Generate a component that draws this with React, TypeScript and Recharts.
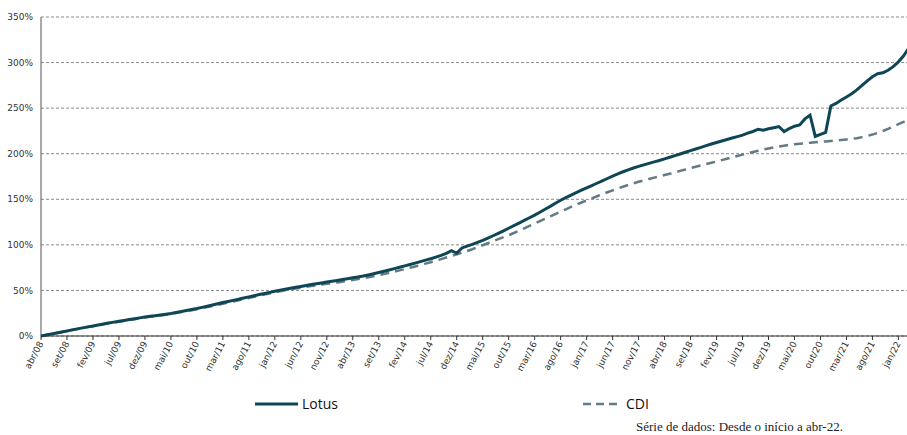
import React from "react";
import { LineChart, Line, XAxis, YAxis, CartesianGrid } from "recharts";

const monthNames = ["jan", "fev", "mar", "abr", "mai", "jun", "jul", "ago", "set", "out", "nov", "dez"];
const startYear = 2008;
const startMonth = 3; // abr
const monthCount = 169; // abr/08 .. abr/22

const lotus = [
  0, 1.1, 2.2, 3.3, 4.4, 5.5, 6.7, 7.8, 8.9, 10.0, 11.0, 12.1, 13.2, 14.2, 15.2, 16.2, 17.1, 18.0, 18.9, 19.9,
  20.9, 21.6, 22.3, 23.0, 23.8, 24.6, 25.7, 26.8, 27.9, 29.0, 30.1, 31.4, 32.7, 34.0, 35.3, 36.7, 37.9, 39.1, 40.4, 41.6,
  42.9, 44.2, 45.5, 46.7, 47.9, 49.1, 50.3, 51.4, 52.4, 53.4, 54.4, 55.4, 56.4, 57.3, 58.2, 59.2, 60.1, 61.0, 61.9, 62.8,
  63.8, 64.8, 65.8, 67.0, 68.3, 69.7, 71.1, 72.5, 73.9, 75.4, 76.9, 78.4, 80.0, 81.6, 83.2, 84.8, 86.6, 88.5, 90.6, 93.6,
  90.8, 96.6, 98.6, 100.6, 102.7, 104.9, 107.4, 110.0, 112.7, 115.4, 118.2, 121.0, 123.9, 126.8, 129.7, 132.6, 135.8, 139.0, 142.2, 145.6,
  149.0, 151.8, 154.6, 157.3, 160.0, 162.5, 165.0, 167.6, 170.2, 172.8, 175.5, 178.0, 180.2, 182.3, 184.3, 186.1, 187.8, 189.4, 191.0, 192.6,
  194.3, 196.1, 197.9, 199.7, 201.6, 203.4, 205.2, 207.0, 208.8, 210.6, 212.3, 214.0, 215.6, 217.2, 218.8, 220.4, 222.6, 224.4, 226.9, 225.8,
  227.3, 228.5, 229.8, 224.2, 227.6, 230.2, 231.6, 238.2, 242.3, 219.0, 221.2, 223.4, 252.4, 255.2, 259.0, 262.2, 265.8, 270.0, 275.0, 280.0,
  284.5, 287.7, 288.8, 291.6, 295.5, 300.8, 307.5, 316.0, 324.0,
];

const cdi = [
  0, 1.1, 2.2, 3.3, 4.4, 5.4, 6.6, 7.7, 8.8, 9.8, 10.8, 11.8, 12.8, 13.8, 14.7, 15.7, 16.6, 17.5, 18.4, 19.3,
  20.2, 21.0, 21.8, 22.6, 23.4, 24.3, 25.2, 26.2, 27.2, 28.3, 29.4, 30.5, 31.7, 32.9, 34.1, 35.3, 36.6, 37.8, 39.1, 40.4,
  41.7, 43.0, 44.3, 45.5, 46.7, 47.9, 49.0, 50.1, 51.1, 52.1, 53.0, 53.9, 54.8, 55.6, 56.4, 57.2, 58.0, 58.8, 59.6, 60.5,
  61.4, 62.4, 63.4, 64.5, 65.6, 66.8, 68.0, 69.3, 70.6, 72.0, 73.4, 74.8, 76.3, 77.8, 79.4, 81.0, 82.7, 84.4, 86.1, 87.8,
  89.6, 91.4, 93.3, 95.2, 97.4, 99.6, 101.8, 104.0, 106.2, 108.4, 110.6, 113.0, 115.6, 118.2, 120.8, 123.4, 126.0, 128.6, 131.2, 133.8,
  136.4, 139.0, 141.6, 144.1, 146.5, 148.7, 151.0, 153.3, 155.5, 157.7, 159.8, 161.8, 163.8, 165.7, 167.5, 169.2, 170.8, 172.3, 173.8, 175.2,
  176.6, 178.0, 179.4, 181.2, 182.6, 184.2, 185.7, 187.1, 188.6, 190.0, 191.5, 193.0, 194.5, 196.0, 197.5, 199.0, 200.4, 201.8, 203.3, 204.8,
  205.8, 206.8, 207.8, 208.8, 209.7, 210.5, 211.0, 211.5, 212.0, 212.5, 213.0, 213.5, 214.0, 214.5, 215.0, 215.6, 216.3, 217.0, 218.2, 219.5,
  221.0, 222.8, 224.9, 227.2, 229.8, 232.4, 235.0, 237.7, 240.4,
];

const yTicks = [0, 50, 100, 150, 200, 250, 300, 350];

const months: string[] = [];
for (let i = 0; i < monthCount; i++) {
  const m = (startMonth + i) % 12;
  const y = startYear + Math.floor((startMonth + i) / 12);
  months.push(`${monthNames[m]}/${String(y % 100).padStart(2, "0")}`);
}

const data = months.map((m, i) => ({ m, lotus: lotus[i], cdi: cdi[i] }));

const LOTUS_COLOR = "#0f4656";
const CDI_COLOR = "#627b86";
const TICK_FONT = "'DejaVu Sans', Verdana, sans-serif";

const XTick = (props: any) => {
  const { x, y, payload } = props;
  return (
    <g transform={`translate(${x},${y})`}>
      <text
        x={0}
        y={0}
        dy={3}
        textAnchor="end"
        transform="rotate(-62)"
        fontSize={9}
        fill="#333"
        fontFamily={TICK_FONT}
      >
        {payload.value}
      </text>
    </g>
  );
};

export default function App() {
  return (
    <div
      style={{
        position: "fixed",
        left: 0,
        top: 0,
        width: 907,
        height: 435,
        overflow: "hidden",
        background: "#fff",
      }}
    >
      <LineChart
        width={930}
        height={435}
        data={data}
        margin={{ top: 17, right: 16, left: 0, bottom: 0 }}
      >
        <CartesianGrid vertical={false} stroke="#8a8a8a" strokeDasharray="3 2" />
        <XAxis
          dataKey="m"
          interval={4}
          height={99}
          tick={<XTick />}
          tickSize={4}
          tickMargin={2}
          axisLine={{ stroke: "#333" }}
          tickLine={{ stroke: "#333" }}
          padding={{ left: 0, right: 0 }}
        />
        <YAxis
          width={41}
          domain={[0, 350]}
          ticks={yTicks}
          tickFormatter={(v: number) => `${v}%`}
          tick={{ fontSize: 9, fill: "#333", fontFamily: TICK_FONT }}
          tickLine={false}
          tickSize={4}
          tickMargin={4}
          axisLine={{ stroke: "#555" }}
          interval={0}
        />
        <Line
          type="linear"
          dataKey="cdi"
          stroke={CDI_COLOR}
          strokeWidth={2.5}
          strokeDasharray="9 6"
          dot={false}
          isAnimationActive={false}
        />
        <Line
          type="linear"
          dataKey="lotus"
          stroke={LOTUS_COLOR}
          strokeWidth={3}
          dot={false}
          isAnimationActive={false}
        />
      </LineChart>

      <svg
        width={907}
        height={40}
        style={{ position: "absolute", left: 0, top: 385 }}
      >
        <line x1={255} y1={19} x2={298} y2={19} stroke={LOTUS_COLOR} strokeWidth={3} />
        <text x={302} y={24} fontSize={14} fontFamily="'Open Sans', sans-serif" fill="#111">
          Lotus
        </text>
        <line x1={583} y1={19} x2={622} y2={19} stroke={CDI_COLOR} strokeWidth={2.5} strokeDasharray="8 5" />
        <text x={626} y={24} fontSize={14} fontFamily="'Open Sans', sans-serif" fill="#111">
          CDI
        </text>
      </svg>

      <div
        style={{
          position: "absolute",
          left: 636,
          top: 419,
          fontFamily: "'Liberation Serif', 'Times New Roman', serif",
          fontSize: 13,
          color: "#222",
          whiteSpace: "nowrap",
          lineHeight: "15px",
        }}
      >
        Série de dados: Desde o início a abr-22.
      </div>
    </div>
  );
}
